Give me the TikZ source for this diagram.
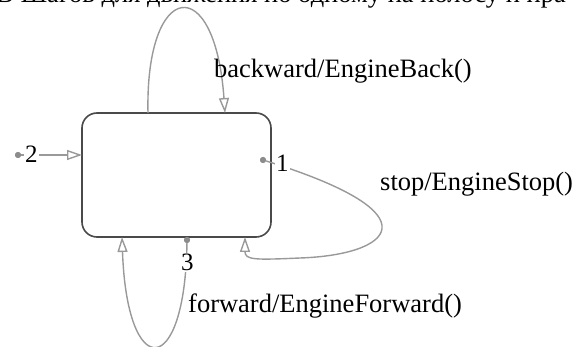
\documentclass[tikz,border=0pt]{standalone}
\usepackage{fontspec}
\setmainfont{Liberation Serif}
\usetikzlibrary{arrows.meta}
\definecolor{connc}{HTML}{999999}
\definecolor{boxc}{HTML}{4A4A4A}
\definecolor{dotc}{HTML}{8C8C8C}
\begin{document}
\begin{tikzpicture}[x=1pt,y=-1pt,
  conn/.style={draw=connc, line width=1.4pt, -{Triangle[open,length=15pt,width=10pt]}},
  lbl/.style={font=\fontsize{26.5}{30}\selectfont, inner sep=0pt, anchor=base west},
  num/.style={font=\fontsize{25}{28}\selectfont, inner sep=1pt, fill=white, anchor=base west},
  pdot/.style={circle, fill=dotc, inner sep=0pt, minimum size=6pt},
  statebox/.style={draw=boxc, line width=1.6pt, rounded corners=15pt, inner sep=0pt}]
\useasboundingbox (0,0) rectangle (574,347);
\clip (0,0) rectangle (574,347);
% cut-off caption line at the top
\node[lbl] (cap) at (-4,3) {В Шагов для движения по одному на полосу и пра};
% state box
\node[statebox, minimum width=189pt, minimum height=124pt] (st) at (176.5,175) {};
% anchor points on the box
\coordinate (tl) at (148,113);
\coordinate (tr) at (225,113);
\coordinate (a2) at (82,155);
\coordinate (bl) at (122,237);
\coordinate (br) at (245,237);
% dots
\node[pdot] (d1) at (263,160) {};
\node[pdot] (d2) at (18,155) {};
\node[pdot] (d3) at (187,240) {};
% connectors
\draw[conn] (tl) .. controls (145,-20) and (215,-30) .. (tr);
\draw[conn] (d2) -- (a2);
\draw[conn] (d1) .. controls (440,215) and (390,255) .. (300,258) .. controls (255,260) and (245,260) .. (br);
\draw[conn] (d3) .. controls (185,380) and (127,382) .. (bl);
% redraw dots on top
\node[pdot] at (d1) {};
\node[pdot] at (d2) {};
\node[pdot] at (d3) {};
% numbers
\node[num] (n1) at (275,172) {1};
\node[num] (n2) at (24,163) {2};
\node[num] (n3) at (180,271) {3};
% transition labels
\node[lbl] (lb) at (214,78) {backward/EngineBack()};
\node[lbl] (ls) at (380,191) {stop/EngineStop()};
\node[lbl] (lf) at (188,313) {forward/EngineForward()};
\end{tikzpicture}
\end{document}
